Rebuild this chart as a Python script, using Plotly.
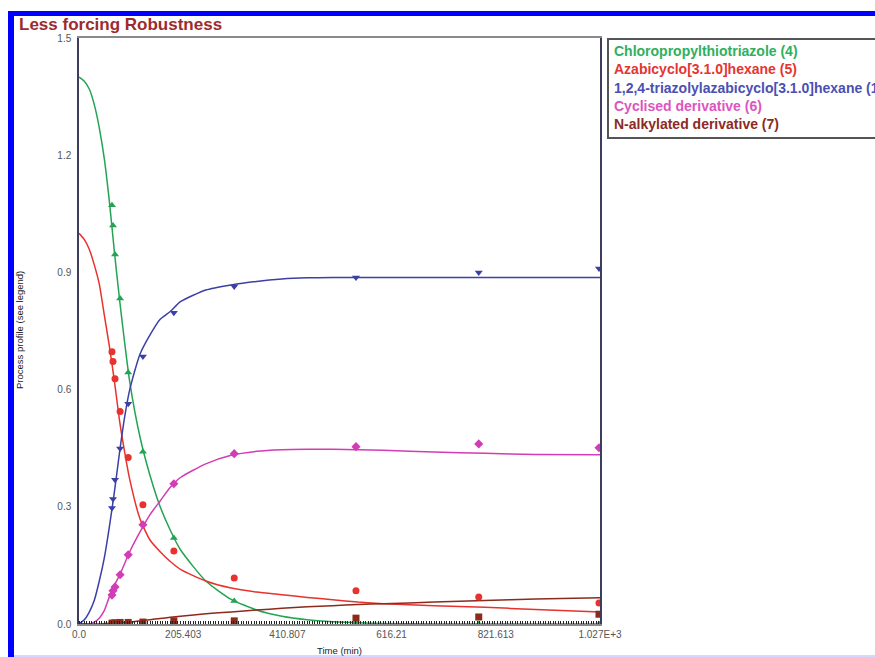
import plotly.graph_objects as go

# ---- measured concentrations (markers) ----
t_obs = [65, 67, 71, 81, 97, 126, 187, 306, 546, 788, 1025]
chloro_obs = [1.072, 1.02, 0.946, 0.833, 0.644, 0.441, 0.22, 0.059, 0.002, 0.0, 0.0]
azabi_obs = [0.697, 0.672, 0.628, 0.544, 0.426, 0.305, 0.187, 0.118, 0.085, 0.069, 0.054]
triaz_obs = [0.297, 0.32, 0.369, 0.449, 0.564, 0.685, 0.797, 0.864, 0.887, 0.900, 0.91]
cycl_obs = [0.074, 0.085, 0.095, 0.126, 0.177, 0.254, 0.359, 0.436, 0.454, 0.461, 0.451]
nalk_obs = [0.002, 0.002, 0.003, 0.004, 0.004, 0.005, 0.008, 0.008, 0.015, 0.018, 0.025]

# ---- fitted model profiles (lines) ----
t_fit = [0, 10, 20, 30, 40, 50, 60, 70, 80, 90, 100, 120, 140, 160, 180, 200,
         250, 300, 350, 400, 450, 500, 550, 600, 700, 800, 900, 1027]
chloro_fit = [1.40, 1.39, 1.37, 1.33, 1.27, 1.19, 1.08, 0.95, 0.83, 0.72, 0.62, 0.48,
              0.38, 0.30, 0.24, 0.19, 0.11, 0.063, 0.036, 0.02, 0.011, 0.006, 0.003,
              0.001, 0.0, 0.0, 0.0, 0.0]
azabi_fit = [1.0, 0.985, 0.96, 0.92, 0.87, 0.79, 0.71, 0.62, 0.52, 0.44, 0.37, 0.27,
             0.215, 0.185, 0.16, 0.14, 0.11, 0.092, 0.082, 0.075, 0.068, 0.062, 0.056,
             0.052, 0.047, 0.043, 0.037, 0.031]
triaz_fit = [0.0, 0.01, 0.03, 0.06, 0.11, 0.17, 0.25, 0.34, 0.44, 0.53, 0.60, 0.69,
             0.74, 0.78, 0.80, 0.825, 0.855, 0.868, 0.877, 0.883, 0.886, 0.887, 0.887,
             0.887, 0.887, 0.887, 0.887, 0.887]
cycl_fit = [0.0, 0.0, 0.0, 0.005, 0.015, 0.035, 0.07, 0.10, 0.125, 0.155, 0.185, 0.235,
            0.28, 0.315, 0.35, 0.375, 0.41, 0.432, 0.442, 0.446, 0.447, 0.447, 0.446,
            0.445, 0.44, 0.437, 0.434, 0.433]
nalk_fit = [0.0, 0.0, 0.0, 0.0, 0.0, 0.001, 0.002, 0.003, 0.003, 0.004, 0.005, 0.008,
            0.011, 0.014, 0.017, 0.02, 0.026, 0.031, 0.036, 0.04, 0.044, 0.047, 0.05,
            0.052, 0.056, 0.06, 0.064, 0.067]

names = ["Chloropropylthiotriazole (4)", "Azabicyclo[3.1.0]hexane (5)",
         "1,2,4-triazolylazabicyclo[3.1.0]hexane (1)", "Cyclised derivative (6)",
         "N-alkylated derivative (7)"]

x_tickvals = [0, 205.403, 410.807, 616.21, 821.613, 1027.015]
x_ticktext = ["0.0", "205.403", "410.807", "616.21", "821.613", "1.027E+3"]
y_tickvals = [0.0, 0.3, 0.6, 0.9, 1.2, 1.5]
y_ticktext = ["0.0", "0.3", "0.6", "0.9", "1.2", "1.5"]

line_colors = ["#23a453", "#e8322e", "#3b40a6", "#d23cb4", "#8c2a1c"]
text_colors = ["#2eb05c", "#e43530", "#4a50b2", "#dc55c0", "#8c2a24"]
symbols = ["triangle-up", "circle", "triangle-down", "diamond", "square"]

obs = [chloro_obs, azabi_obs, triaz_obs, cycl_obs, nalk_obs]
fits = [chloro_fit, azabi_fit, triaz_fit, cycl_fit, nalk_fit]

W, H = 875, 657
L, R, T, B = 79, 275, 38, 33
PW, PH = W - L - R, H - T - B


def px(x):
    return (x - L) / PW


def py(y):
    return (H - B - y) / PH


fig = go.Figure()
for i in range(5):
    fig.add_trace(go.Scatter(x=t_fit, y=fits[i], mode="lines", name=names[i],
                             line=dict(color=line_colors[i], width=1.5, shape="spline",
                                       smoothing=0.6),
                             showlegend=False))
for i in range(5):
    fig.add_trace(go.Scatter(x=t_obs, y=obs[i], mode="markers", name=names[i],
                             marker=dict(symbol=symbols[i], color=line_colors[i], size=7),
                             showlegend=False))

shapes = [
    # outer blue frame
    dict(type="line", xref="paper", yref="paper", x0=px(8), x1=px(880), y0=py(13.5), y1=py(13.5),
         line=dict(color="#0000ff", width=5)),
    dict(type="line", xref="paper", yref="paper", x0=px(11), x1=px(11), y0=py(11), y1=py(657),
         line=dict(color="#0000ff", width=6)),
    dict(type="line", xref="paper", yref="paper", x0=px(14), x1=px(880), y0=py(656), y1=py(656),
         line=dict(color="#c8c8ff", width=1.5)),
    # legend box
    dict(type="rect", xref="paper", yref="paper", x0=px(608), x1=px(890), y0=py(39), y1=py(138),
         line=dict(color="#555555", width=2), fillcolor="white"),
]

annotations = [
    dict(text="<b>Less forcing Robustness</b>", xref="paper", yref="paper",
         x=px(17), y=py(24), xanchor="left", yanchor="middle", showarrow=False,
         font=dict(family="Arial", size=17, color="#9c2b2e")),
    dict(text="Time (min)", xref="paper", yref="paper",
         x=px(339), y=py(650), xanchor="center", yanchor="middle", showarrow=False,
         font=dict(family="Arial", size=9.5, color="#222222")),
    dict(text="Process profile (see legend)", xref="paper", yref="paper", textangle=-90,
         x=px(19), y=py(330), xanchor="center", yanchor="middle", showarrow=False,
         font=dict(family="Arial", size=9.5, color="#222222")),
]
for i, n in enumerate(names):
    annotations.append(dict(text="<b>" + n + "</b>", xref="paper", yref="paper",
                            x=px(612), y=py(51 + 18.3 * i), xanchor="left", yanchor="middle",
                            showarrow=False,
                            font=dict(family="Arial", size=14, color=text_colors[i])))

fig.update_layout(
    width=W, height=H,
    margin=dict(l=L, r=R, t=T, b=B, pad=0),
    paper_bgcolor="white", plot_bgcolor="white",
    showlegend=False,
    shapes=shapes, annotations=annotations,
    font=dict(family="Arial", color="#555555"),
    xaxis=dict(range=[0, 1027.015], tickvals=x_tickvals, ticktext=x_ticktext,
               automargin=False,
               showgrid=False, zeroline=False, showline=True, mirror=True,
               linecolor="#8a8a8a", linewidth=1.5, ticks="", ticklen=0,
               tickfont=dict(size=10, color="#555555"),
               minor=dict(dtick=5, ticks="inside", ticklen=3, tickwidth=1,
                          tickcolor="#222222", showgrid=False)),
    yaxis=dict(range=[0, 1.5], tickvals=y_tickvals, ticktext=y_ticktext,
               automargin=False,
               showgrid=False, zeroline=False, showline=True, mirror=True,
               linecolor="#3c3c5c", linewidth=1.5, ticks="outside", ticklen=4,
               tickcolor="rgba(0,0,0,0)",
               tickfont=dict(size=10, color="#555555")),
)

fig.write_html("out.html")
